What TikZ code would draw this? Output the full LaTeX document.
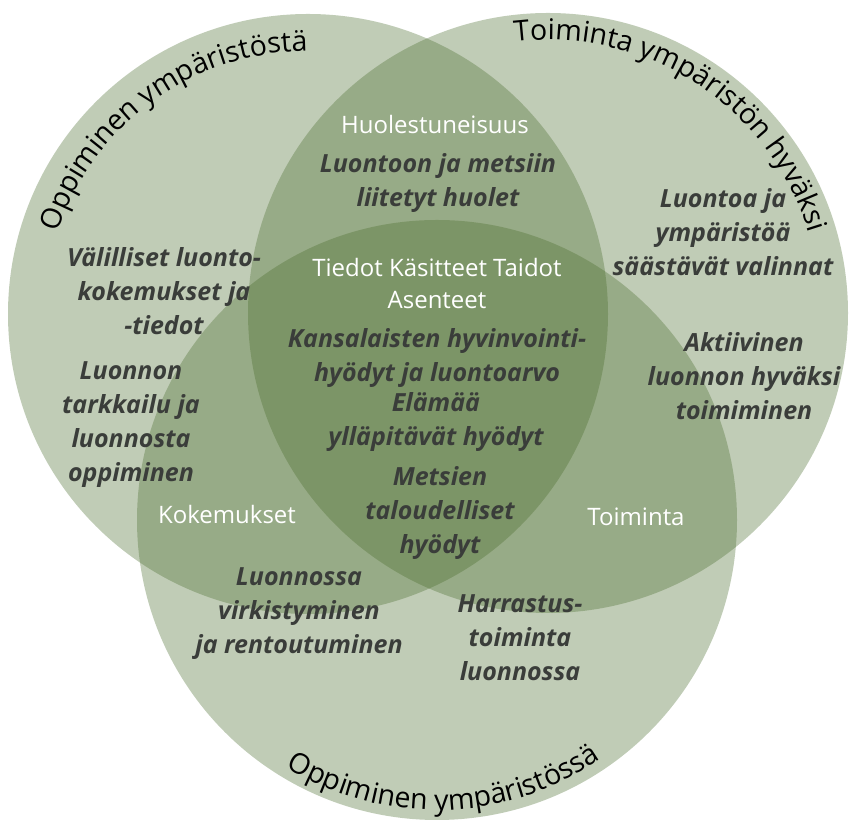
\documentclass[tikz,border=0pt]{standalone}
\usepackage{fontspec}
\setmainfont{Open Sans}
\usetikzlibrary{decorations.text}
\definecolor{venn}{RGB}{75,109,46}
\definecolor{dtext}{RGB}{58,61,58}
\newcommand{\curvefont}{\fontsize{28.5}{28.5}\selectfont}
\begin{document}
\begin{tikzpicture}[x=1pt,y=1pt,
  circ/.style={fill=venn, fill opacity=0.35, draw=none},
  lbl/.style={font=\fontsize{25}{34}\selectfont\bfseries\itshape, text=dtext, align=center, inner sep=0pt},
  wlbl/.style={font=\fontsize{24}{32}\selectfont, text=white, align=center, inner sep=0pt},
  curved/.style={decorate, decoration={text along path, text align=center, text={|\curvefont|#1}}},
]
\useasboundingbox (0,0) rectangle (849,821);
\coordinate (cA) at (308,507);
\coordinate (cB) at (548,508);
\coordinate (cC) at (437,301);
\fill[circ] (cA) circle (300);
\fill[circ] (cB) circle (300);
\fill[circ] (cC) circle (300);

\path[curved={Oppiminen ympäristöstä}] (cA) ++(181:263) arc[start angle=181, end angle=71, radius=263];
\path[curved={Toiminta ympäristön hyväksi}] (cB) ++(117:273) arc[start angle=117, end angle=-3, radius=273];
\path[curved={Oppiminen ympäristössä}] (cC) ++(-143.5:290) arc[start angle=-143.5, end angle=-33.5, radius=290];

\node[wlbl] (huol) at (435,696) {Huolestuneisuus};
\node[lbl] (huolet) at (438,638) {Luontoon ja metsiin\\liitetyt huolet};
\node[wlbl] (tiedot) at (437,537) {Tiedot Käsitteet Taidot\\Asenteet};
\node[lbl] (kansal) at (437,463) {Kansalaisten hyvinvointi-\\hyödyt ja luontoarvo};
\node[lbl] (elamaa) at (436,399) {Elämää\\ylläpitävät hyödyt};
\node[lbl] (metsien) at (440,308) {Metsien\\taloudelliset\\hyödyt};
\node[lbl] (valil) at (164,530) {Välilliset luonto-\\kokemukset ja\\-tiedot};
\node[lbl] (tarkk) at (131,396) {Luonnon\\tarkkailu ja\\luonnosta\\oppiminen};
\node[wlbl] (kokem) at (227,306) {Kokemukset};
\node[lbl] (virk) at (299,207) {Luonnossa\\virkistyminen\\ja rentoutuminen};
\node[wlbl] (toim) at (636,304) {Toiminta};
\node[lbl] (harr) at (520,183) {Harrastus-\\toiminta\\luonnossa};
\node[lbl] (saast) at (723,589) {Luontoa ja\\ympäristöä\\säästävät valinnat};
\node[lbl] (aktiiv) at (744,445) {Aktiivinen\\luonnon hyväksi\\toimiminen};
\end{tikzpicture}
\end{document}
